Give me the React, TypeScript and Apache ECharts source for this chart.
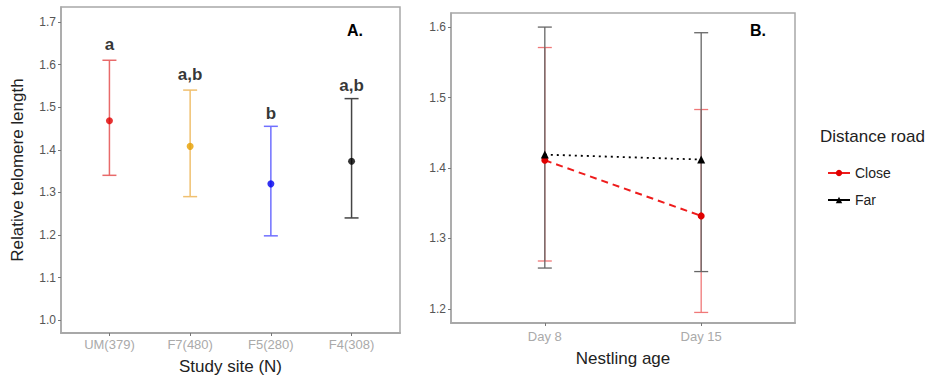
import React, { useEffect, useRef } from "react";
import * as echarts from "echarts";

// Panel A
const sites = ["UM(379)", "F7(480)", "F5(280)", "F4(308)"];
const siteMean = [1.468, 1.408, 1.32, 1.373];
const siteLow = [1.34, 1.29, 1.198, 1.24];
const siteHigh = [1.61, 1.54, 1.455, 1.52];
const siteLetters = ["a", "a,b", "b", "a,b"];
const siteLetterY = [1.646, 1.576, 1.486, 1.55];
const siteColors = ["#e00000", "#E69F00", "#0000ee", "#000000"];
const siteBarColors = ["#e86a6a", "#f0c070", "#7070ff", "#444444"];
const yTicksA = [1.0, 1.1, 1.2, 1.3, 1.4, 1.5, 1.6, 1.7];

// Panel B
const ages = ["Day 8", "Day 15"];
const closeMean = [1.411, 1.332];
const closeLow = [1.268, 1.195];
const closeHigh = [1.571, 1.483];
const farMean = [1.419, 1.412];
const farLow = [1.258, 1.253];
const farHigh = [1.6, 1.592];
const yTicksB = [1.2, 1.3, 1.4, 1.5, 1.6];

const FONT = "Liberation Sans, Arial, sans-serif";

function errRender(color: string, width: number, cap: number) {
  return (params: any, api: any) => {
    const x = api.value(0);
    const lo = api.coord([x, api.value(1)]);
    const hi = api.coord([x, api.value(2)]);
    const style = { stroke: color, lineWidth: width, fill: "none" };
    return {
      type: "group",
      children: [
        { type: "line", shape: { x1: lo[0], y1: lo[1], x2: hi[0], y2: hi[1] }, style },
        { type: "line", shape: { x1: lo[0] - cap, y1: lo[1], x2: lo[0] + cap, y2: lo[1] }, style },
        { type: "line", shape: { x1: hi[0] - cap, y1: hi[1], x2: hi[0] + cap, y2: hi[1] }, style },
      ],
    };
  };
}

export default function App() {
  const ref = useRef<HTMLDivElement>(null);
  useEffect(() => {
    if (!ref.current) return;
    const chart = echarts.init(ref.current, undefined, { renderer: "svg" });
    const axisLabelStyle = { color: "#555", fontSize: 12, fontFamily: FONT };
    const series: any[] = [];
    // Panel A error bars
    sites.forEach((s, i) => {
      series.push({
        type: "custom",
        xAxisIndex: 0,
        yAxisIndex: 0,
        renderItem: errRender(siteBarColors[i], 1.5, 7),
        data: [[i + 1, siteLow[i], siteHigh[i]]],
        z: 2,
      });
    });
    series.push({
      type: "scatter",
      xAxisIndex: 0,
      yAxisIndex: 0,
      symbolSize: 7,
      data: siteMean.map((v, i) => ({ value: [i + 1, v], itemStyle: { color: siteColors[i] } })),
      z: 5,
    });
    series.push({
      type: "scatter",
      xAxisIndex: 0,
      yAxisIndex: 0,
      symbolSize: 0,
      data: siteLetterY.map((v, i) => [i + 1, v]),
      label: {
        show: true,
        position: "inside",
        formatter: (p: any) => siteLetters[p.dataIndex],
        fontWeight: "bold",
        fontSize: 17,
        color: "#000",
        fontFamily: FONT,
      },
    });
    // Panel B error bars
    series.push({
      type: "custom",
      xAxisIndex: 1,
      yAxisIndex: 1,
      renderItem: errRender("#f07878", 1.3, 7),
      data: ages.map((a, i) => [i + 1, closeLow[i], closeHigh[i]]),
      z: 2,
    });
    series.push({
      type: "custom",
      xAxisIndex: 1,
      yAxisIndex: 1,
      renderItem: errRender("#666666", 1.3, 7),
      data: ages.map((a, i) => [i + 1, farLow[i], farHigh[i]]),
      z: 3,
    });
    series.push({
      name: "Close",
      type: "line",
      xAxisIndex: 1,
      yAxisIndex: 1,
      data: closeMean.map((v, i) => [i + 1, v]),
      symbol: "circle",
      symbolSize: 7,
      itemStyle: { color: "#e00000" },
      lineStyle: { color: "#ee1c1c", width: 2, type: [7, 5] },
      z: 6,
    });
    series.push({
      name: "Far",
      type: "line",
      xAxisIndex: 1,
      yAxisIndex: 1,
      data: farMean.map((v, i) => [i + 1, v]),
      symbol: "triangle",
      symbolSize: 8,
      itemStyle: { color: "#000" },
      lineStyle: { color: "#000", width: 1.8, type: [2, 4] },
      z: 7,
    });

    const titleStyle = { fontSize: 17, color: "#222", fontFamily: FONT };

    chart.setOption({
      animation: false,
      textStyle: { fontFamily: FONT },
      grid: [
        { left: 61, top: 7, width: 339, height: 326, show: true, borderColor: "#a8a8a8", borderWidth: 1.5 },
        { left: 451, top: 13, width: 344, height: 310, show: true, borderColor: "#a8a8a8", borderWidth: 1.5 },
      ],
      xAxis: [
        {
          gridIndex: 0,
          type: "value",
          min: 0.4,
          max: 4.6,
          splitLine: { show: false },
          axisLine: { show: true, onZero: false, lineStyle: { color: "#a8a8a8", width: 2 } },
          axisTick: { show: true, customValues: [1, 2, 3, 4], length: 3, lineStyle: { color: "#777" } },
          axisLabel: {
            customValues: [1, 2, 3, 4],
            formatter: (v: number) => sites[Math.round(v) - 1] ?? "",
            ...axisLabelStyle,
            fontSize: 13,
            color: "#aaa",
            margin: 5,
          },
          name: "Study site (N)",
          nameLocation: "middle",
          nameGap: 25,
          nameTextStyle: titleStyle,
        },
        {
          gridIndex: 1,
          type: "value",
          min: 0.4,
          max: 2.6,
          splitLine: { show: false },
          axisLine: { show: true, onZero: false, lineStyle: { color: "#a8a8a8", width: 2 } },
          axisTick: { show: true, customValues: [1, 2], length: 3, lineStyle: { color: "#777" } },
          axisLabel: {
            customValues: [1, 2],
            formatter: (v: number) => ages[Math.round(v) - 1] ?? "",
            ...axisLabelStyle,
            fontSize: 13,
            color: "#aaa",
            margin: 7,
          },
          name: "Nestling age",
          nameLocation: "middle",
          nameGap: 27,
          nameTextStyle: titleStyle,
        },
      ],
      yAxis: [
        {
          gridIndex: 0,
          type: "value",
          min: 0.97,
          max: 1.735,
          splitLine: { show: false },
          axisLine: { show: true, lineStyle: { color: "#a8a8a8", width: 1.5 } },
          axisTick: { show: true, customValues: yTicksA, length: 3, lineStyle: { color: "#777" } },
          axisLabel: {
            customValues: yTicksA,
            formatter: (v: number) => v.toFixed(1),
            ...axisLabelStyle,
            margin: 5,
          },
          name: "Relative telomere length",
          nameLocation: "middle",
          nameGap: 35,
          nameTextStyle: titleStyle,
        },
        {
          gridIndex: 1,
          type: "value",
          min: 1.18,
          max: 1.62,
          splitLine: { show: false },
          axisLine: { show: true, lineStyle: { color: "#a8a8a8", width: 1.5 } },
          axisTick: { show: true, customValues: yTicksB, length: 3, lineStyle: { color: "#777" } },
          axisLabel: {
            customValues: yTicksB,
            formatter: (v: number) => v.toFixed(1),
            ...axisLabelStyle,
            margin: 5,
          },
        },
      ],
      legend: {
        data: ["Close", "Far"],
        orient: "vertical",
        left: 822,
        top: 161,
        itemWidth: 22,
        itemHeight: 8,
        itemGap: 13,
        lineStyle: { type: "solid", width: 2 },
        textStyle: { fontSize: 14, color: "#222", fontFamily: FONT },
      },
      graphic: [
        { type: "text", left: 347, top: 22, style: { text: "A.", font: "bold 16px " + FONT, fill: "#000" } },
        { type: "text", left: 750, top: 22, style: { text: "B.", font: "bold 16px " + FONT, fill: "#000" } },
        { type: "text", left: 820, top: 128, style: { text: "Distance road", font: "17px " + FONT, fill: "#222" } },
      ],
      series,
    });
    return () => chart.dispose();
  }, []);
  return <div ref={ref} style={{ position: "absolute", left: 0, top: 0, width: 946, height: 380 }} />;
}
